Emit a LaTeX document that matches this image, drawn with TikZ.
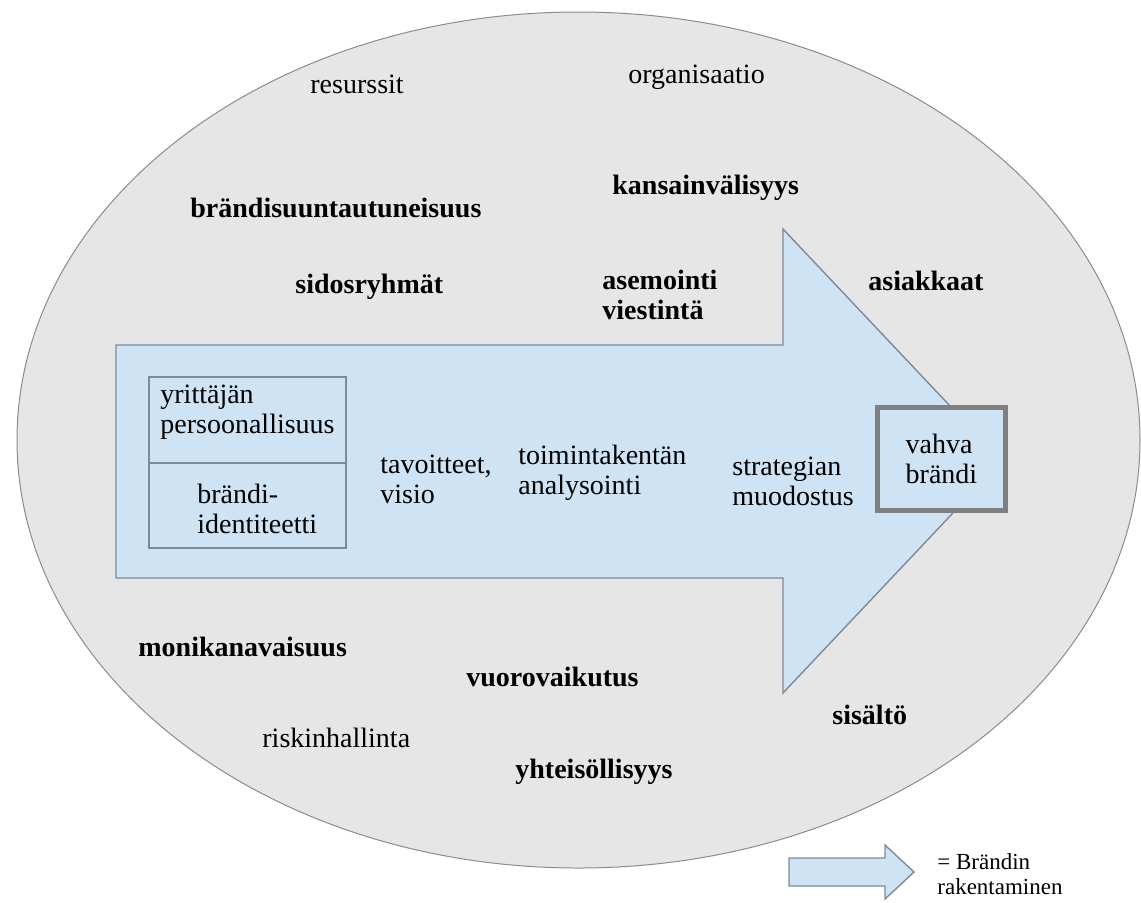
\documentclass[tikz,border=0pt]{standalone}
\usepackage{fontspec}
\setmainfont{Liberation Serif}
\usetikzlibrary{positioning}

\definecolor{ovalfill}{RGB}{230,230,230}
\definecolor{ovalline}{RGB}{140,140,140}
\definecolor{arrowblue}{RGB}{206,228,244}
\definecolor{arrowline}{RGB}{125,138,152}
\definecolor{goalline}{RGB}{128,128,128}

\begin{document}
\begin{tikzpicture}[x=0.5pt,y=-0.5pt,
    word/.style={font=\fontsize{14}{15}\selectfont,anchor=west,inner sep=0pt,align=left},
    key word/.style={word,font=\fontsize{14}{15}\selectfont\bfseries},
    flow/.style={draw=arrowline,fill=arrowblue,line width=0.7pt,line join=miter},
    panel/.style={draw=arrowline,line width=0.6pt},
    goal/.style={draw=goalline,fill=arrowblue,line width=2.5pt,minimum width=64pt,minimum height=51.5pt,inner sep=0pt,align=left,font=\fontsize{14}{15}\selectfont}]

    \fill[white] (0,0) rectangle (1141,902);
    \useasboundingbox (0,0) rectangle (1141,902);

    % surroundings
    \draw[draw=ovalline,fill=ovalfill,line width=0.5pt] (578.5,440) ellipse [x radius=280.75pt, y radius=214pt];

    % brand building arrow
    \draw[flow] (116,345) -- (783,345) -- (783,229) -- (1002,461) -- (783,693) -- (783,578) -- (116,578) -- cycle;
    \draw[panel] (149,377) rectangle (346,548);
    \draw[panel] (149,463) -- (346,463);

    \node[word] (person) at (160,412) {yrittäjän\\persoonallisuus};
    \node[word] (identity) at (197,509) {brändi-\\identiteetti};
    \node[word] (goals) at (380,479) {tavoitteet,\\visio};
    \node[word] (field) at (518,473) {toimintakentän\\analysointi};
    \node[word] (strategy) at (732,481) {strategian\\muodostus};
    \node[goal] (strong) at (941.5,459) {vahva\\brändi};

    % factors around
    \node[word] (resources) at (310,84) {resurssit};
    \node[word] (organisation) at (628,77) {organisaatio};
    \node[key word] (orientation) at (190,208) {brändisuuntautuneisuus};
    \node[key word] (global) at (612,188) {kansainvälisyys};
    \node[key word] (stakeholders) at (295,287) {sidosryhmät};
    \node[key word] (positioning) at (602,294.5) {asemointi\\viestintä};
    \node[key word] (customers) at (868,281) {asiakkaat};
    \node[key word] (channels) at (138,647) {monikanavaisuus};
    \node[key word] (interaction) at (466,677) {vuorovaikutus};
    \node[word] (risks) at (262,738) {riskinhallinta};
    \node[key word] (community) at (515,772) {yhteisöllisyys};
    \node[key word] (content) at (832,715) {sisältö};

    % legend
    \draw[flow] (789,858) -- (885,858) -- (885,845) -- (914,872) -- (885,899) -- (885,886) -- (789,886) -- cycle;
    \node[word,font=\fontsize{11.5}{12.5}\selectfont] (meaning) at (937,874) {= Brändin\\rakentaminen};
\end{tikzpicture}
\end{document}
